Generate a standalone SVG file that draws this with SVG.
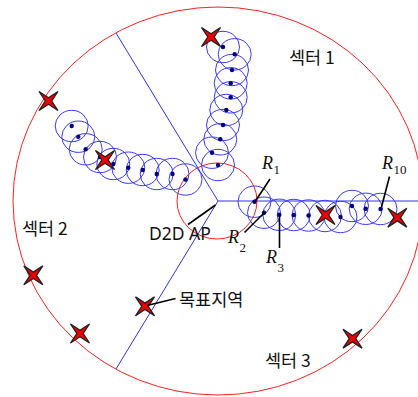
<svg xmlns="http://www.w3.org/2000/svg" xmlns:xlink="http://www.w3.org/1999/xlink" width="418" height="397" viewBox="0 0 418 397">
<style>
.bg{fill:#ffffff}
.red{fill:none;stroke:#ff2020;stroke-width:1}
.sec{fill:none;stroke:#3030ff;stroke-width:1}
.cov{fill:none;stroke:#3a3aff;stroke-width:1}
.dot{fill:#00007a}
.star{fill:#ee0000;stroke:#222;stroke-width:1.3;stroke-linejoin:miter}
.lead{fill:none;stroke:#000;stroke-width:1.6}
.kr{font-family:"Noto Sans CJK KR","Noto Sans",sans-serif;font-size:17.5px;fill:#111}
.lat{font-family:"Noto Sans","Noto Sans CJK KR",sans-serif;font-size:17.5px;fill:#111}
.r{font-family:"Liberation Serif",serif;font-style:italic;font-size:18px;fill:#111}
.sub{font-family:"Liberation Serif",serif;font-size:13px;fill:#111}
</style>
<defs>
<path id="star" class="star" d="M-9.5,-9.5 L0,-3.2 L9.5,-9.5 L3.2,0 L9.5,9.5 L0,3.2 L-9.5,9.5 L-3.2,0 Z"/>
<ellipse id="c" class="cov" rx="16.5" ry="15.7"/>
</defs>
<rect class="bg" width="418" height="397"/>
<g id="sector-boundary">
<ellipse class="red" cx="218" cy="201" rx="205" ry="194"/>
</g>
<g id="connectors">
<line class="sec" x1="218" y1="201" x2="116" y2="33"/>
<line class="sec" x1="218" y1="201" x2="116" y2="369"/>
<line class="sec" x1="218" y1="201" x2="418" y2="201"/>
</g>
<g id="ap">
<ellipse class="red" cx="217" cy="201" rx="40" ry="38"/>
</g>
<g id="chain1">
<use xlink:href="#c" x="223" y="47"/><use xlink:href="#c" x="234.7" y="54.3"/><use xlink:href="#c" x="232" y="70"/><use xlink:href="#c" x="230.7" y="83.3"/><use xlink:href="#c" x="230.7" y="97.3"/><use xlink:href="#c" x="226.3" y="110"/><use xlink:href="#c" x="223" y="125"/><use xlink:href="#c" x="220.3" y="139.3"/><use xlink:href="#c" x="212" y="152.7"/><use xlink:href="#c" x="218" y="165"/>
<circle class="dot" cx="223" cy="47" r="2.2"/><circle class="dot" cx="234.7" cy="54.3" r="2.2"/><circle class="dot" cx="232" cy="70" r="2.2"/><circle class="dot" cx="230.7" cy="83.3" r="2.2"/><circle class="dot" cx="230.7" cy="97.3" r="2.2"/><circle class="dot" cx="226.3" cy="110" r="2.2"/><circle class="dot" cx="223" cy="125" r="2.2"/><circle class="dot" cx="220.3" cy="139.3" r="2.2"/><circle class="dot" cx="212" cy="152.7" r="2.2"/><circle class="dot" cx="218" cy="165" r="2.2"/>
</g>
<g id="chain2">
<use xlink:href="#c" x="71.7" y="126"/><use xlink:href="#c" x="78.3" y="136.7"/><use xlink:href="#c" x="85.7" y="149.3"/><use xlink:href="#c" x="100" y="157"/><use xlink:href="#c" x="113.3" y="164"/><use xlink:href="#c" x="128.3" y="167.7"/><use xlink:href="#c" x="142.7" y="170"/><use xlink:href="#c" x="156.7" y="174"/><use xlink:href="#c" x="172.5" y="174"/><use xlink:href="#c" x="185.5" y="179.5"/>
<circle class="dot" cx="71.7" cy="126" r="2.2"/><circle class="dot" cx="78.3" cy="136.7" r="2.2"/><circle class="dot" cx="85.7" cy="149.3" r="2.2"/><circle class="dot" cx="100" cy="157" r="2.2"/><circle class="dot" cx="113.3" cy="164" r="2.2"/><circle class="dot" cx="128.3" cy="167.7" r="2.2"/><circle class="dot" cx="142.7" cy="170" r="2.2"/><circle class="dot" cx="156.7" cy="174" r="2.2"/><circle class="dot" cx="172.5" cy="174" r="2.2"/><circle class="dot" cx="185.5" cy="179.5" r="2.2"/>
</g>
<g id="chain3">
<use xlink:href="#c" x="254.5" y="201.7"/><use xlink:href="#c" x="264" y="212.7"/><use xlink:href="#c" x="279.3" y="214.8"/><use xlink:href="#c" x="293.7" y="215"/><use xlink:href="#c" x="308.5" y="215.5"/><use xlink:href="#c" x="325" y="216"/><use xlink:href="#c" x="340.5" y="217"/><use xlink:href="#c" x="352" y="206"/><use xlink:href="#c" x="365.7" y="208.8"/><use xlink:href="#c" x="380.5" y="209"/>
<circle class="dot" cx="254.5" cy="201.7" r="2.2"/><circle class="dot" cx="264" cy="212.7" r="2.2"/><circle class="dot" cx="279.3" cy="214.8" r="2.2"/><circle class="dot" cx="293.7" cy="215" r="2.2"/><circle class="dot" cx="308.5" cy="215.5" r="2.2"/><circle class="dot" cx="325" cy="216" r="2.2"/><circle class="dot" cx="340.5" cy="217" r="2.2"/><circle class="dot" cx="352" cy="206" r="2.2"/><circle class="dot" cx="365.7" cy="208.8" r="2.2"/><circle class="dot" cx="380.5" cy="209" r="2.2"/>
</g>
<g id="targets">
<use xlink:href="#star" x="211" y="37"/>
<use xlink:href="#star" x="48.5" y="101"/>
<use xlink:href="#star" x="105" y="160"/>
<use xlink:href="#star" x="33.3" y="275.3"/>
<use xlink:href="#star" x="80" y="333.5"/>
<use xlink:href="#star" x="145" y="306.3"/>
<use xlink:href="#star" x="325.5" y="215"/>
<use xlink:href="#star" x="397.3" y="217.7"/>
<use xlink:href="#star" x="352.5" y="338.7"/>
</g>
<g id="leaders">
<line class="lead" x1="188" y1="224.5" x2="215.5" y2="205"/>
<line class="lead" x1="270" y1="179" x2="255.5" y2="201"/>
<line class="lead" x1="244.5" y1="232.5" x2="264.5" y2="212.5"/>
<line class="lead" x1="279.5" y1="215.5" x2="279.5" y2="248"/>
<line class="lead" x1="389.5" y1="176.5" x2="381.5" y2="207"/>
<line class="lead" x1="147" y1="305.5" x2="175.5" y2="298.5"/>
</g>
<g id="labels">
<text class="kr" x="289" y="64">섹터 1</text>
<text class="kr" x="22" y="235">섹터 2</text>
<text class="kr" x="265" y="367">섹터 3</text>
<text class="lat" x="149" y="240">D2D AP</text>
<text class="kr" x="179" y="306">목표지역</text>
<text class="r" x="262" y="169">R</text><text class="sub" x="273.5" y="174">1</text>
<text class="r" x="382" y="169">R</text><text class="sub" x="393.5" y="174">10</text>
<text class="r" x="228" y="243">R</text><text class="sub" x="239.5" y="252">2</text>
<text class="r" x="266" y="263">R</text><text class="sub" x="277.5" y="272">3</text>
</g>
</svg>
